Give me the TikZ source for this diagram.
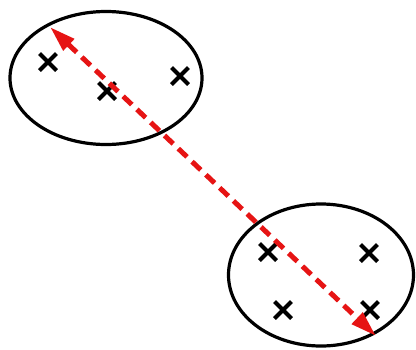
\documentclass[tikz,border=0pt]{standalone}
\usetikzlibrary{shapes.geometric,shapes.misc,arrows.meta}
\begin{document}
\begin{tikzpicture}[x=1pt,y=-1pt,
  cluster/.style={draw=black,line width=3.2pt,ellipse,inner sep=0pt},
  pt/.style={cross out,draw=black,line width=4pt,minimum size=13pt,inner sep=0pt},
  dist/.style={draw={rgb,255:red,230;green,20;blue,20},line width=5pt,dash pattern=on 12pt off 7pt,
    {Triangle[length=26pt,width=15pt]}-{Triangle[length=26pt,width=15pt]},
    color={rgb,255:red,230;green,20;blue,20}}]
\useasboundingbox[fill=white] (0,0) rectangle (416,349);
\node[cluster,minimum width=192pt,minimum height=133pt] (A) at (106,78) {};
\node[cluster,minimum width=185pt,minimum height=142pt] (B) at (321,275) {};
\node[pt] (a1) at (48,62) {};
\node[pt] (a2) at (107,91) {};
\node[pt] (a3) at (180,76) {};
\node[pt] (b1) at (268,252) {};
\node[pt] (b2) at (369,253) {};
\node[pt] (b3) at (283,310) {};
\node[pt] (b4) at (370,310) {};
\coordinate (p) at (50,27);
\coordinate (q) at (376,336);
\draw[dist] (p) -- (q);
\end{tikzpicture}
\end{document}
